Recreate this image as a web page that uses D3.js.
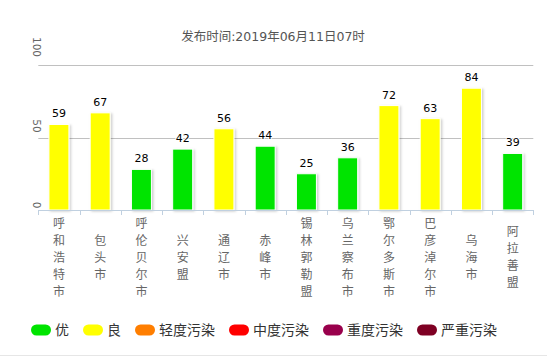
<!DOCTYPE html>
<html><head><meta charset="utf-8">
<script src="https://cdn.jsdelivr.net/npm/d3@7"></script>
<style>body{margin:0;background:#fff}svg{display:block}</style>
</head><body>
<svg id="c" width="547" height="356"></svg>
<script>
const title = "发布时间:2019年06月11日07时";
const categories = ["呼和浩特市","包头市","呼伦贝尔市","兴安盟","通辽市","赤峰市","锡林郭勒盟","乌兰察布市","鄂尔多斯市","巴彦淖尔市","乌海市","阿拉善盟"];
const values = [59,67,28,42,56,44,25,36,72,63,84,39];
const yTicks = [0,50,100];
const legendNames = ["优","良","轻度污染","中度污染","重度污染","严重污染"];
const legendColors = ["#00e400","#ffff00","#ff7e00","#ff0000","#99004c","#7e0023"];
const levelLimits = [50,100,150,200,300];

const svg = d3.select("#c");
const cjk = "'Noto Sans CJK SC', sans-serif";
const num = "'DejaVu Sans', 'Noto Sans CJK SC', sans-serif";

const defs = svg.append("defs");
const f = defs.append("filter").attr("id","sh").attr("x","-30%").attr("y","-10%").attr("width","160%").attr("height","130%");
f.append("feDropShadow").attr("dx",1.5).attr("dy",1).attr("stdDeviation",1).attr("flood-color","#000").attr("flood-opacity",0.2);

const x = d3.scaleBand().domain(categories).range([38.3, 533.3]).paddingInner(0).paddingOuter(0);
const y = d3.scaleLinear().domain([0,100]).range([210, 65]);

const colorOf = v => legendColors[d3.bisectLeft(levelLimits, v)];

// title
svg.append("text").attr("x",273).attr("y",41).attr("text-anchor","middle")
  .attr("font-family",num).attr("font-size",12.5).attr("fill","#555").text(title);

// gridlines
svg.append("g").selectAll("line").data(yTicks.filter(d=>d>0)).join("line")
  .attr("x1",38.3).attr("x2",533.3).attr("y1",d=>Math.round(y(d))+0.5).attr("y2",d=>Math.round(y(d))+0.5)
  .attr("stroke","#c0c0c0").attr("stroke-width",1);

// y labels rotated
svg.append("g").selectAll("text").data(yTicks).join("text")
  .attr("transform",d=>`translate(33,${y(d) - (6.5*String(d).length - 1.5)}) rotate(90)`)
  .attr("text-anchor","middle").attr("font-family",num).attr("font-size",10.5).attr("fill","#666")
  .text(d=>d);

// bars
const bw = 20;
svg.append("g").selectAll("rect").data(values).join("rect")
  .attr("x",(d,i)=>x(categories[i]) + x.bandwidth()/2 - bw/2)
  .attr("y",d=>y(d))
  .attr("width",bw).attr("height",d=>y(0)-y(d))
  .attr("fill",d=>colorOf(d)).attr("stroke","#fff").attr("stroke-width",1)
  .attr("filter","url(#sh)");

// value labels
svg.append("g").selectAll("text").data(values).join("text")
  .attr("x",(d,i)=>x(categories[i]) + x.bandwidth()/2)
  .attr("y",d=>y(d)-7)
  .attr("text-anchor","middle").attr("font-family",num).attr("font-size",11).attr("fill","#000")
  .attr("stroke","#fff").attr("stroke-width",2).attr("paint-order","stroke")
  .text(d=>d);

// x axis line and ticks
svg.append("line").attr("x1",38.3).attr("x2",533.3).attr("y1",210.5).attr("y2",210.5).attr("stroke","#c0d0e0");
const bounds = categories.map(c=>x(c)).concat([x.range()[1]]);
svg.append("g").selectAll("line").data(bounds).join("line")
  .attr("x1",d=>Math.round(d)+0.5).attr("x2",d=>Math.round(d)+0.5).attr("y1",210).attr("y2",215)
  .attr("stroke","#c0d0e0");

// category labels vertical
const lh = 17;
const gL = svg.append("g");
categories.forEach(c=>{
  const chars = Array.from(c);
  const cx = x(c) + x.bandwidth()/2;
  const start = 257 - (chars.length-1)/2*lh;
  chars.forEach((ch,j)=>{
    gL.append("text").attr("x",cx).attr("y",start + j*lh + 4.5)
      .attr("text-anchor","middle").attr("font-family",cjk).attr("font-size",12).attr("fill","#666").text(ch);
  });
});

// legend
const lg = svg.append("g");
let lx = 31;
legendNames.forEach((n,i)=>{
  lg.append("rect").attr("x",lx).attr("y",324.5).attr("width",20).attr("height",11).attr("rx",5.5)
    .attr("fill",legendColors[i]);
  const t = lg.append("text").attr("x",lx+24).attr("y",335).attr("font-family",cjk).attr("font-size",14)
    .attr("fill","#333").text(n);
  const w = t.node().getComputedTextLength();
  lx += 24 + w + 14;
});

// bottom border
svg.append("line").attr("x1",0).attr("x2",547).attr("y1",355.5).attr("y2",355.5).attr("stroke","#e6e6e6");
</script>
</body></html>
